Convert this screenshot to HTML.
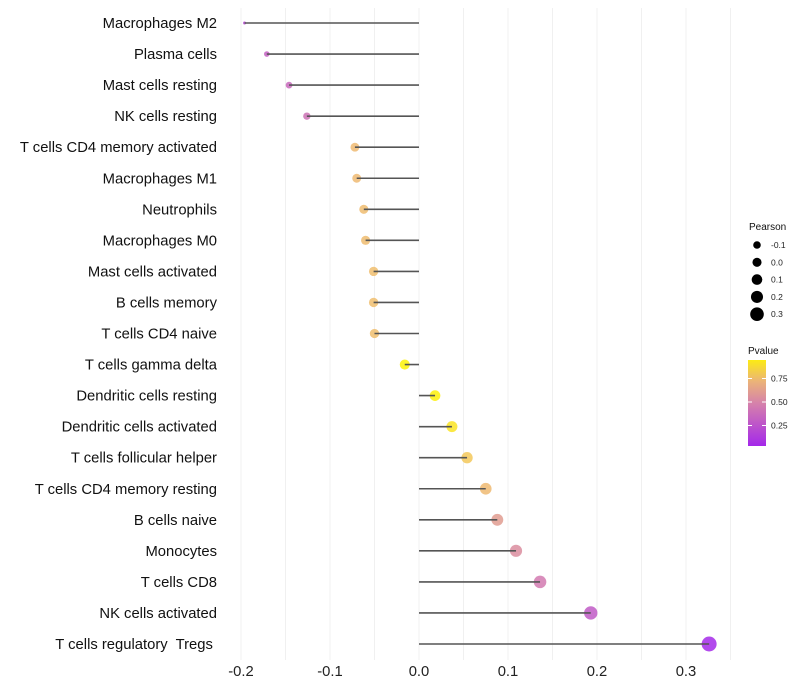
<!DOCTYPE html>
<html><head><meta charset="utf-8"><style>
body{margin:0;background:#fff;font-family:"Liberation Sans",sans-serif}
svg{display:block}
</style></head><body>
<svg id="c" width="800" height="700"></svg>
<script>
const cells=["Macrophages M2","Plasma cells","Mast cells resting","NK cells resting","T cells CD4 memory activated","Macrophages M1","Neutrophils","Macrophages M0","Mast cells activated","B cells memory","T cells CD4 naive","T cells gamma delta","Dendritic cells resting","Dendritic cells activated","T cells follicular helper","T cells CD4 memory resting","B cells naive","Monocytes","T cells CD8","NK cells activated","T cells regulatory  Tregs "];
const pearson=[-0.196,-0.171,-0.146,-0.126,-0.072,-0.070,-0.062,-0.060,-0.051,-0.051,-0.050,-0.016,0.018,0.037,0.054,0.075,0.088,0.109,0.136,0.193,0.326];
const pvalue=[0.20,0.33,0.37,0.42,0.76,0.76,0.77,0.77,0.78,0.78,0.78,0.99,0.98,0.93,0.82,0.76,0.62,0.55,0.46,0.30,0.05];
const xTicks=[-0.2,-0.1,0.0,0.1,0.2,0.3];
const sizeLegend=[-0.1,0.0,0.1,0.2,0.3];
const colLegend=[0.25,0.50,0.75];
const NS="http://www.w3.org/2000/svg";
const svg=document.getElementById('c');
function mk(t,a,p){const e=document.createElementNS(NS,t);for(const k in a)e.setAttribute(k,a[k]);(p||svg).appendChild(e);return e;}
const X=v=>419+v*890;
const Y=i=>23+i*31.05;
const R=v=>1.5+6*Math.sqrt(Math.max(0,(v+0.196)/0.522));
function lerp(a,b,t){return a.map((x,i)=>Math.round(x+(b[i]-x)*t));}
function col(p){const s=[[160,32,240],[214,130,170],[240,190,110],[255,245,0]];const t=Math.max(0,Math.min(1,p));
let c;if(t<0.5)c=lerp(s[0],s[1],t/0.5);else if(t<0.78)c=lerp(s[1],s[2],(t-0.5)/0.28);else c=lerp(s[2],s[3],(t-0.78)/0.22);return `rgb(${c})`;}
for(let v=-0.2;v<=0.351;v+=0.05){const g=mk('line',{x1:X(v),x2:X(v),y1:8,y2:660,stroke:'#f0f0f0','stroke-width':1});

}
xTicks.forEach(v=>{const t=mk('text',{x:X(v),y:676,'text-anchor':'middle','font-size':14.8,fill:'#222'});t.textContent=v.toFixed(1);

});
cells.forEach((c,i)=>{const y=Y(i);
const l=mk('text',{x:217,y:y+5,'text-anchor':'end','font-size':14.8,fill:'#111','xml:space':'preserve'});l.style.whiteSpace='pre';l.textContent=c;


const d=mk('circle',{cx:X(pearson[i]),cy:y,r:R(pearson[i]),fill:col(pvalue[i]),'fill-opacity':0.85});


const ln=mk('line',{x1:X(0),x2:X(pearson[i]),y1:y,y2:y,stroke:'#555','stroke-width':1.6});

});
const lt=mk('text',{x:749,y:230,'font-size':10,fill:'#111'});lt.textContent='Pearson';

sizeLegend.forEach((v,i)=>{const y=245+i*17.3;
const c=mk('circle',{cx:757,cy:y,r:3.8+i*0.75,fill:'#000'});

const t=mk('text',{x:771,y:y+3,'font-size':8.5,fill:'#222'});t.textContent=v.toFixed(1);
});
const pt=mk('text',{x:748,y:354,'font-size':10,fill:'#111'});pt.textContent='Pvalue';

const defs=mk('defs',{});const gr=mk('linearGradient',{id:'g',x1:0,y1:1,x2:0,y2:0},defs);
[[0,0.04],[0.25,0.27],[0.5,0.5],[0.75,0.73],[1,0.96]].forEach(([o,p])=>mk('stop',{offset:o,'stop-color':col(p)},gr));
const bar=mk('rect',{x:748,y:360,width:18,height:86,fill:'url(#g)'});

const CY=p=>449-p*94;
colLegend.forEach(p=>{mk('line',{x1:748,x2:752,y1:CY(p),y2:CY(p),stroke:'#fff'});mk('line',{x1:762,x2:766,y1:CY(p),y2:CY(p),stroke:'#fff'});
const t=mk('text',{x:771,y:CY(p)+3,'font-size':8.5,fill:'#222'});t.textContent=p.toFixed(2);
});
</script>
</body></html>
